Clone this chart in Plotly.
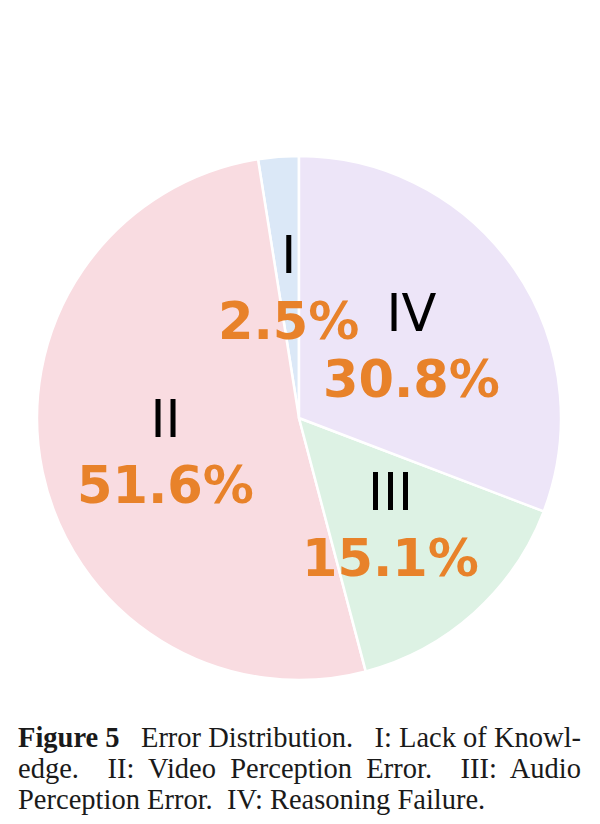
import math
import plotly.graph_objects as go

labels = ["I", "II", "III", "IV"]
values = [2.5, 51.6, 15.1, 30.8]
colors = ["#dbe8f7", "#f9dce1", "#ddf2e4", "#ede5f8"]
pct_color = "#e8822a"

W, H = 600, 824
cx, cy, R = 299, 418, 262  # pixel layout of pie

total = sum(values)
# plotly's counterclockwise mode starts the first slice one slice-width clockwise; shift back
rot = -360.0 * values[0] / total

fig = go.Figure()
fig.add_trace(go.Pie(
    labels=labels, values=values, sort=False, direction="counterclockwise",
    rotation=rot, marker=dict(colors=colors, line=dict(color="white", width=2.5)),
    textinfo="none", hoverinfo="label+percent", showlegend=False,
    domain=dict(x=[(cx - R) / W, (cx + R) / W], y=[1 - (cy + R) / H, 1 - (cy - R) / H]),
))

cum = 0.0
annotations = []
for lab, v in zip(labels, values):
    mid = (cum + v / 2) / total * 2 * math.pi
    cum += v
    rr = 0.52 * R
    px = cx - rr * math.sin(mid)
    py = cy - rr * math.cos(mid) + 6
    annotations.append(dict(
        x=px / W, y=1 - py / H, xref="paper", yref="paper", showarrow=False,
        xanchor="center", yanchor="middle",
        text=f"{lab}<br><span style='color:{pct_color}'><b>{v:.1f}%</b></span>",
        font=dict(family="DejaVu Sans", size=51, color="black"),
    ))

caption_lines = [
    "<b>Figure 5</b>&nbsp;&nbsp; Error Distribution.&nbsp;&nbsp; I: Lack of Knowl-",
    "edge.&nbsp;&nbsp;&nbsp; II:&nbsp; Video&nbsp; Perception&nbsp; Error.&nbsp;&nbsp;&nbsp; III:&nbsp; Audio",
    "Perception Error.&nbsp; IV: Reasoning Failure.",
]
for i, t in enumerate(caption_lines):
    annotations.append(dict(
        x=16 / W, y=1 - (737 + 31 * i) / H, xref="paper", yref="paper", showarrow=False,
        xanchor="left", yanchor="middle", text=t,
        font=dict(family="Liberation Serif", size=28.5, color="#1a1a1a"),
    ))

fig.update_layout(
    width=W, height=H, margin=dict(l=0, r=0, t=0, b=0),
    paper_bgcolor="white", plot_bgcolor="white", annotations=annotations,
)
fig.write_html("out.html")
